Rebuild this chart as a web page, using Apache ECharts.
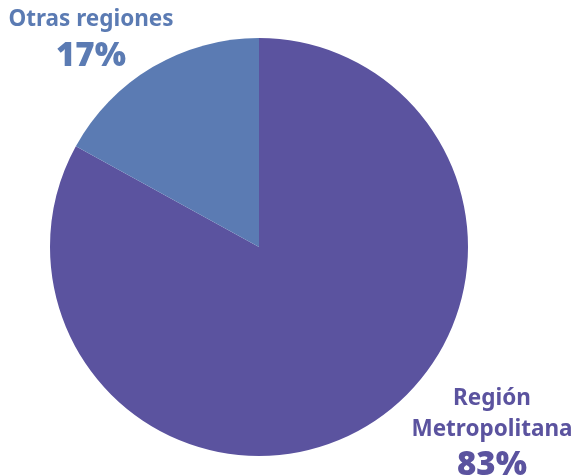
<!DOCTYPE html>
<html>
<head>
<meta charset="utf-8">
<script src="https://cdn.jsdelivr.net/npm/echarts@6/dist/echarts.min.js"></script>
<style>
  html, body { margin: 0; padding: 0; background: #fff; }
  #chart { width: 575px; height: 475px; }
</style>
</head>
<body>
<div id="chart"></div>
<script>
const categories = ['Región Metropolitana', 'Otras regiones']
const labelNames = [['Región', 'Metropolitana'], ['Otras regiones']]
const values = [83, 17]
const colors = ['#5b539f', '#5b7bb3']

const chart = echarts.init(document.getElementById('chart'))

const labelPos = [
  { x: 492, y: 435 },
  { x: 91, y: 41 }
]

chart.setOption({
  animation: false,
  series: [
    {
      type: 'pie',
      center: [259, 247],
      radius: 209,
      startAngle: 90,
      clockwise: true,
      data: categories.map((name, i) => ({
        name,
        value: values[i],
        itemStyle: { color: colors[i] },
        label: { color: colors[i] }
      })),
      label: {
        show: true,
        position: 'outside',
        overflow: 'none',
        formatter: (p) => {
          const lines = labelNames[p.dataIndex].map(t => '{n|' + t + '}')
          return lines.join('\n') + '\n{v|' + values[p.dataIndex] + '%}'
        },
        rich: {
          n: { fontSize: 22.5, fontWeight: 'bold', lineHeight: 31, fontFamily: 'Noto Sans' },
          v: { fontSize: 33, fontWeight: 900, lineHeight: 42, fontFamily: 'Noto Sans' }
        }
      },
      labelLine: { show: false },
      labelLayout: (params) => ({
        x: labelPos[params.dataIndex].x,
        y: labelPos[params.dataIndex].y,
        align: 'center',
        verticalAlign: 'middle'
      }),
      emphasis: { disabled: true }
    }
  ]
})
</script>
</body>
</html>
